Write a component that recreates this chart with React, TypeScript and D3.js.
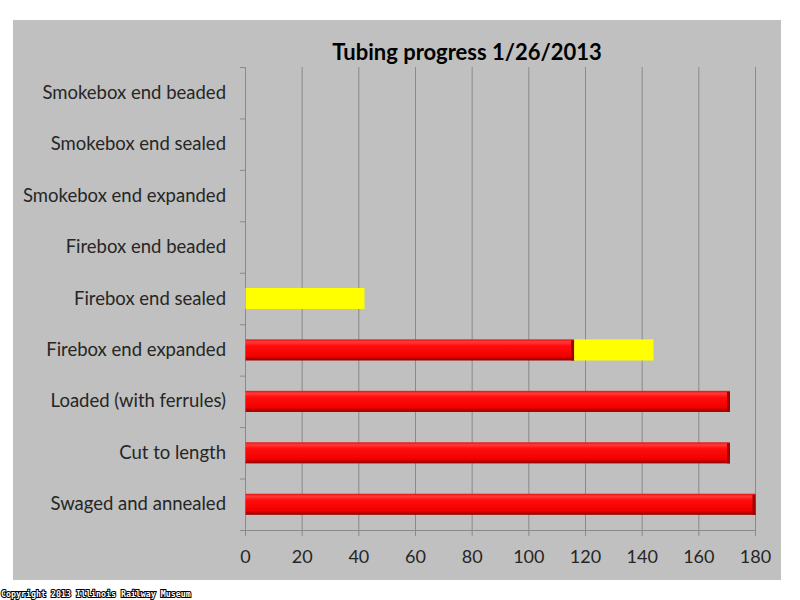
import React from 'react'
import * as d3 from 'd3'

// tubing steps, top to bottom as drawn
const steps = [
  'Smokebox end beaded',
  'Smokebox end sealed',
  'Smokebox end expanded',
  'Firebox end beaded',
  'Firebox end sealed',
  'Firebox end expanded',
  'Loaded (with ferrules)',
  'Cut to length',
  'Swaged and annealed',
]
// finished tubes (red) and tubes in progress (yellow)
const done = [0, 0, 0, 0, 0, 116, 171, 171, 180]
const started = [0, 0, 0, 0, 42, 28, 0, 0, 0]
const xTicks = [0, 20, 40, 60, 80, 100, 120, 140, 160, 180]

const W = 800
const H = 600
const font = 'Lato, "Open Sans", sans-serif'

export default function App() {
  const x = d3.scaleLinear().domain([0, 180]).range([245.5, 755.5])
  const y = d3.scaleBand().domain(steps).range([67, 530]).paddingInner(0.59).paddingOuter(0.295)
  const band = d3.scaleBand().domain(steps).range([67, 530])
  const bh = y.bandwidth()

  return (
    <svg width={W} height={H} style={{ position: 'absolute', left: 0, top: 0, display: 'block' }}>
      <defs>
        <linearGradient id='redShade' x1='0' y1='0' x2='0' y2='1'>
          <stop offset='0' stopColor='#e81010' />
          <stop offset='0.12' stopColor='#ff3a3a' />
          <stop offset='0.3' stopColor='#ff0d0d' />
          <stop offset='0.8' stopColor='#f00000' />
          <stop offset='1' stopColor='#8e0000' />
        </linearGradient>
      </defs>
      <rect x={0} y={0} width={W} height={H} fill='#fff' />
      <rect x={13} y={20} width={768} height={560} fill='#c0c0c0' />

      <text x={467} y={60} textAnchor='middle' fontFamily={font} fontWeight='bold' fontSize={22} fill='#000'>
        Tubing progress 1/26/2013
      </text>

      {/* gridlines */}
      {xTicks.slice(1).map(t => (
        <line key={t} x1={x(t)} x2={x(t)} y1={67} y2={530} stroke='#8a8a8a' strokeWidth={1} />
      ))}
      {/* axes */}
      <line x1={245.5} x2={245.5} y1={67} y2={530} stroke='#8a8a8a' />
      <line x1={245.5} x2={756} y1={530.5} y2={530.5} stroke='#8a8a8a' />
      {xTicks.map(t => (
        <line key={'xt' + t} x1={x(t)} x2={x(t)} y1={530} y2={536} stroke='#8a8a8a' />
      ))}
      {steps.map(s => (
        <line key={'yt' + s} x1={240} x2={246} y1={(band(s) as number) + 0.5} y2={(band(s) as number) + 0.5} stroke='#8a8a8a' />
      ))}
      <line x1={240} x2={246} y1={530.5} y2={530.5} stroke='#8a8a8a' />

      {/* bars */}
      {steps.map((s, i) => {
        const y0 = y(s) as number
        return (
          <g key={'b' + s}>
            {done[i] > 0 && (
              <g>
                <rect x={x(0)} y={y0} width={x(done[i]) - x(0)} height={bh} fill='url(#redShade)' />
                <rect x={x(done[i]) - 3} y={y0 + 1} width={3} height={bh - 1} fill='#a00000' />
              </g>
            )}
            {started[i] > 0 && (
              <rect x={x(done[i])} y={y0} width={x(done[i] + started[i]) - x(done[i])} height={bh} fill='#ffff00' />
            )}
          </g>
        )
      })}

      {/* category labels */}
      {steps.map(s => (
        <text key={'l' + s} x={226} y={(band(s) as number) + band.bandwidth() / 2 + 6} textAnchor='end'
          fontFamily={font} fontSize={18.5} fill='#262626'>
          {s}
        </text>
      ))}
      {xTicks.map(t => (
        <text key={'xl' + t} x={x(t)} y={563} textAnchor='middle' fontFamily={font} fontSize={18} fill='#262626'>
          {t}
        </text>
      ))}

      <text x={1} y={597} fontFamily='"DejaVu Sans Mono", monospace' fontWeight='bold' fontSize={8.3}
        fill='#fff' stroke='#000' strokeWidth={2} paintOrder='stroke' style={{ paintOrder: 'stroke' }}>
        Copyright 2013 Illinois Railway Museum
      </text>
    </svg>
  )
}
